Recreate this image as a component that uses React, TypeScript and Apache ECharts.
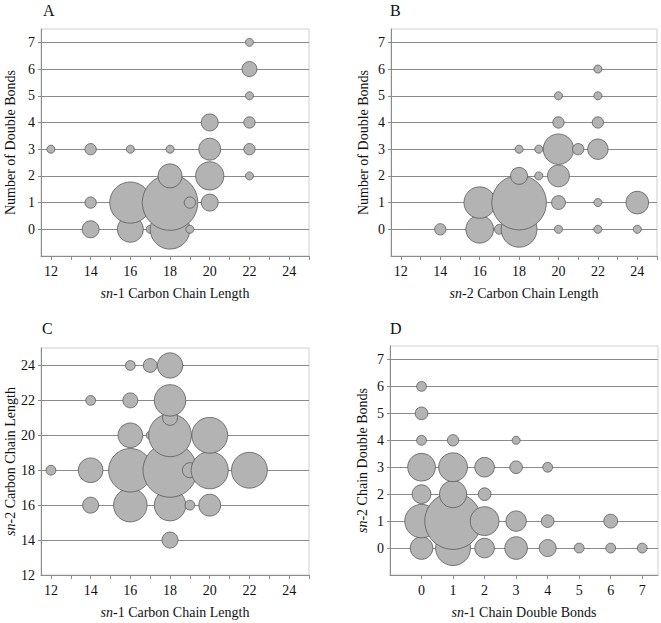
import React, { useEffect, useRef } from 'react';
import * as echarts from 'echarts';

// Tick labels
const carbonLabels = [12, 14, 16, 18, 20, 22, 24];
const carbonTicks = [12, 13, 14, 15, 16, 17, 18, 19, 20, 21, 22, 23, 24, 25];
const bondLabels = [0, 1, 2, 3, 4, 5, 6, 7];
const sn2LengthGrid = [14, 16, 18, 20, 22, 24];

// [x, y, relative abundance] (drawn in order: x ascending, then y ascending)
const panelA: [number, number, number][] = [
  [12, 3, 2],
  [14, 0, 9], [14, 1, 4], [14, 3, 4],
  [16, 0, 21], [16, 1, 53], [16, 3, 2],
  [17, 0, 2],
  [18, 0, 49], [18, 1, 96], [18, 2, 18], [18, 3, 2],
  [19, 0, 2], [19, 1, 4],
  [20, 1, 9], [20, 2, 25], [20, 3, 15], [20, 4, 9],
  [22, 2, 2], [22, 3, 4], [22, 4, 4], [22, 5, 2], [22, 6, 7], [22, 7, 2],
];

const panelB: [number, number, number][] = [
  [14, 0, 4],
  [16, 0, 24], [16, 1, 31],
  [17, 0, 3],
  [18, 0, 40], [18, 1, 93], [18, 2, 9], [18, 3, 2],
  [19, 2, 2], [19, 3, 2],
  [20, 0, 2], [20, 1, 6], [20, 2, 15], [20, 3, 29], [20, 4, 4], [20, 5, 2],
  [21, 3, 4],
  [22, 0, 2], [22, 1, 2], [22, 3, 13], [22, 4, 4], [22, 5, 2], [22, 6, 2],
  [24, 0, 2], [24, 1, 16],
];

const panelC: [number, number, number][] = [
  [12, 18, 3],
  [14, 16, 8], [14, 18, 19], [14, 22, 3],
  [16, 16, 35], [16, 18, 59], [16, 20, 19], [16, 22, 7], [16, 24, 3],
  [17, 20, 2], [17, 24, 6],
  [18, 14, 8], [18, 16, 31], [18, 18, 91], [18, 20, 57], [18, 21, 7], [18, 22, 31], [18, 24, 20],
  [19, 16, 3], [19, 18, 7],
  [20, 16, 15], [20, 18, 43], [20, 20, 40],
  [22, 18, 40],
];

const panelD: [number, number, number][] = [
  [0, 0, 16], [0, 1, 35], [0, 2, 11], [0, 3, 24], [0, 4, 3], [0, 5, 5], [0, 6, 3],
  [1, 0, 38], [1, 1, 100], [1, 2, 23], [1, 3, 26], [1, 4, 4],
  [2, 0, 12], [2, 1, 26], [2, 2, 5], [2, 3, 12],
  [3, 0, 16], [3, 1, 13], [3, 3, 5], [3, 4, 2],
  [4, 0, 9], [4, 1, 5], [4, 3, 3],
  [5, 0, 3],
  [6, 0, 3], [6, 1, 6],
  [7, 0, 3],
];

const panelLetters = ['A', 'B', 'C', 'D'];

const FONT = 'Liberation Serif';
const TEXT = '#111';

export default function App() {
  const ref = useRef<HTMLDivElement>(null);

  useEffect(() => {
    document.body.style.margin = '0';
    if (!ref.current) return;
    const chart = echarts.init(ref.current, null, { renderer: 'svg' });

    const grids = [
      { left: 41, top: 29, width: 268, height: 227 },
      { left: 391, top: 29, width: 266, height: 227 },
      { left: 41, top: 348, width: 268, height: 227 },
      { left: 390, top: 346, width: 268, height: 229 },
    ].map((g) => ({
      ...g,
      show: true,
      borderColor: '#cfcfcf',
      borderWidth: 1,
      backgroundColor: 'transparent',
      containLabel: false,
    }));

    const nameStyle = {
      fontFamily: FONT,
      fontSize: 14,
      color: TEXT,
      rich: {
        i: { fontFamily: FONT, fontSize: 14, fontStyle: 'italic', color: TEXT },
      },
    };
    const axisLine = { show: true, onZero: false, lineStyle: { color: '#8c8c8c', width: 1 } };
    const labelStyle = { fontFamily: FONT, fontSize: 14, color: TEXT };

    const xAxisBase = (idx: number, min: number, max: number, ticks: number[], labels: number[], name: string) => ({
      type: 'value',
      gridIndex: idx,
      min,
      max,
      name,
      nameLocation: 'middle',
      nameGap: 30,
      nameTextStyle: nameStyle,
      axisLine,
      axisTick: { show: true, length: 4, customValues: ticks, lineStyle: { color: '#8c8c8c' } },
      axisLabel: { ...labelStyle, margin: 8, customValues: labels },
      splitLine: { show: false },
    });

    const yAxisBase = (idx: number, min: number, max: number, ticks: number[], labels: number[], name: string, gap: number) => ({
      type: 'value',
      gridIndex: idx,
      min,
      max,
      name,
      nameLocation: 'middle',
      nameGap: gap,
      nameTextStyle: nameStyle,
      axisLine,
      axisTick: { show: true, length: 3, customValues: ticks, lineStyle: { color: '#8c8c8c' } },
      axisLabel: { ...labelStyle, margin: 6, customValues: labels },
      splitLine: { show: true, lineStyle: { color: '#8a8a8a', width: 1 } },
    });

    const sizeOf = (v: number[]) => Math.sqrt(v[2]) * 5.66;
    const series = [panelA, panelB, panelC, panelD].map((d, i) => ({
      type: 'scatter',
      xAxisIndex: i,
      yAxisIndex: i,
      data: d,
      symbol: 'circle',
      symbolSize: sizeOf,
      itemStyle: { color: '#b3b3b3', borderColor: '#5a5a5a', borderWidth: 0.8, opacity: 1 },
      emphasis: { disabled: true },
      z: 3,
    }));

    const letterPos = [
      [43, 2],
      [390, 2],
      [42, 320],
      [390, 320],
    ];

    chart.setOption({
      animation: false,
      textStyle: { fontFamily: FONT },
      grid: grids,
      xAxis: [
        xAxisBase(0, 11.5, 25, carbonTicks, carbonLabels, '{i|sn}-1 Carbon Chain Length'),
        xAxisBase(1, 11.5, 25, carbonTicks, carbonLabels, '{i|sn}-2 Carbon Chain Length'),
        xAxisBase(2, 11.5, 25, carbonTicks, carbonLabels, '{i|sn}-1 Carbon Chain Length'),
        xAxisBase(3, -1, 7.5, bondLabels, bondLabels, '{i|sn}-1 Chain Double Bonds'),
      ],
      yAxis: [
        yAxisBase(0, -1, 7.5, bondLabels, bondLabels, 'Number of Double Bonds', 24),
        yAxisBase(1, -1, 7.5, bondLabels, bondLabels, 'Number of Double Bonds', 21),
        yAxisBase(2, 12, 25, sn2LengthGrid, carbonLabels, '{i|sn}-2 Carbon Chain Length', 24),
        yAxisBase(3, -1, 7.5, bondLabels, bondLabels, '{i|sn}-2 Chain Double Bonds', 21),
      ],
      series,
      graphic: panelLetters.map((t, i) => ({
        type: 'text',
        x: letterPos[i][0],
        y: letterPos[i][1],
        style: { text: t, fontFamily: FONT, fontSize: 16, fill: TEXT, textVerticalAlign: 'top' },
      })),
    });

    return () => chart.dispose();
  }, []);

  return <div ref={ref} style={{ width: 661, height: 623 }} />;
}
